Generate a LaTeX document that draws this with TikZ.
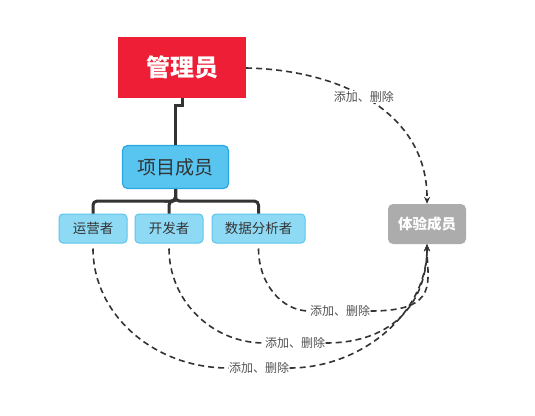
\documentclass[tikz,border=0pt]{standalone}
\usepackage{fontspec}
\setmainfont{Noto Sans CJK SC}
\usepackage{tikz}
\usetikzlibrary{arrows.meta, calc, positioning}
\definecolor{adminRed}{RGB}{238,30,54}
\definecolor{memberBlue}{RGB}{88,196,240}
\definecolor{memberEdge}{RGB}{40,168,222}
\definecolor{roleBlue}{RGB}{142,218,245}
\definecolor{roleEdge}{RGB}{92,196,236}
\definecolor{trialGray}{RGB}{172,172,172}
\definecolor{lineDark}{RGB}{51,51,51}
\def\roleTop{214}
\def\roleHeight{29}
\def\trialX{428}

\tikzset{
    adminbox/.style={fill=adminRed, text=white, font=\bfseries\fontsize{24}{28}\selectfont,
        minimum width=128pt, minimum height=61pt, inner sep=0pt},
    memberbox/.style={fill=memberBlue, draw=memberEdge, line width=1.2pt, rounded corners=5pt,
        text=lineDark, font=\fontsize{19}{22}\selectfont, minimum width=106pt, minimum height=43pt, inner sep=0pt},
    rolebox/.style={fill=roleBlue, draw=roleEdge, line width=1pt, rounded corners=4pt,
        text=lineDark, font=\fontsize{13.5}{16}\selectfont, minimum height=\roleHeight pt, inner sep=0pt},
    trialbox/.style={fill=trialGray, rounded corners=5pt, text=white, font=\bfseries\fontsize{14.5}{17}\selectfont,
        minimum width=78pt, minimum height=40pt, inner sep=0pt},
    treeline/.style={draw=lineDark, line width=3pt},
    dashline/.style={draw=lineDark, line width=1.6pt, dash pattern=on 6pt off 4pt},
    opslabel/.style={fill=white, text=lineDark!85, font=\fontsize{12}{14}\selectfont, inner sep=0.5pt}
}

\begin{document}
\begin{tikzpicture}[x=1pt, y=-1pt]
    \useasboundingbox (0,0) rectangle (535,415);

    % Boxes
    \node[adminbox] (admin) at (182,67.5) {管理员};
    \node[memberbox] (member) at (175.5,167) {项目成员};
    \node[trialbox] (trial) at (427,224) {体验成员};
    \foreach \name/\cx/\w/\txt in {ops/93/68/运营者, dev/169/68/开发者, ana/258.5/93/数据分析者} {
        \node[rolebox, minimum width=\w pt] (\name) at (\cx, {\roleTop + \roleHeight/2}) {\txt};
    }

    % Tree lines
    \draw[treeline] (admin.south) -- ++(0,7) -| (member.north);
    \foreach \name in {ops, dev, ana} {
        \draw[treeline, rounded corners=4pt] (member.south) -- ++(0,12) -| (\name.north);
    }

    % Admin adds / removes trial members
    \draw[dashline, -{Stealth[length=7pt, width=6pt]}] (admin.east) ++(0,0.5)
        .. controls (345,70) and (\trialX,115) .. (trial.north)
        node[opslabel, pos=0.45] (lab0) {添加、删除};

    % Members add / remove trial members
    \foreach \name/\ly/\lx/\rise in {ops/368/259/120, dev/343/295/95, ana/311/340/63} {
        \node[opslabel] (lab\name) at (\lx,\ly) {添加、删除};
        \draw[dashline] (\name.south) ++(0,5) let \p1 = (lab\name.west), \p2 = (\name.south) in
            .. controls +(0,{0.55*\rise}) and +({-0.55*(\x1-\x2)},0) .. (lab\name.west);
        \draw[dashline, -{Stealth[length=7pt, width=6pt]}] (lab\name.east)
            .. controls +(70,0) and +(0,{(\ly-250)*0.6}) .. (trial.south);
    }
\end{tikzpicture}
\end{document}
